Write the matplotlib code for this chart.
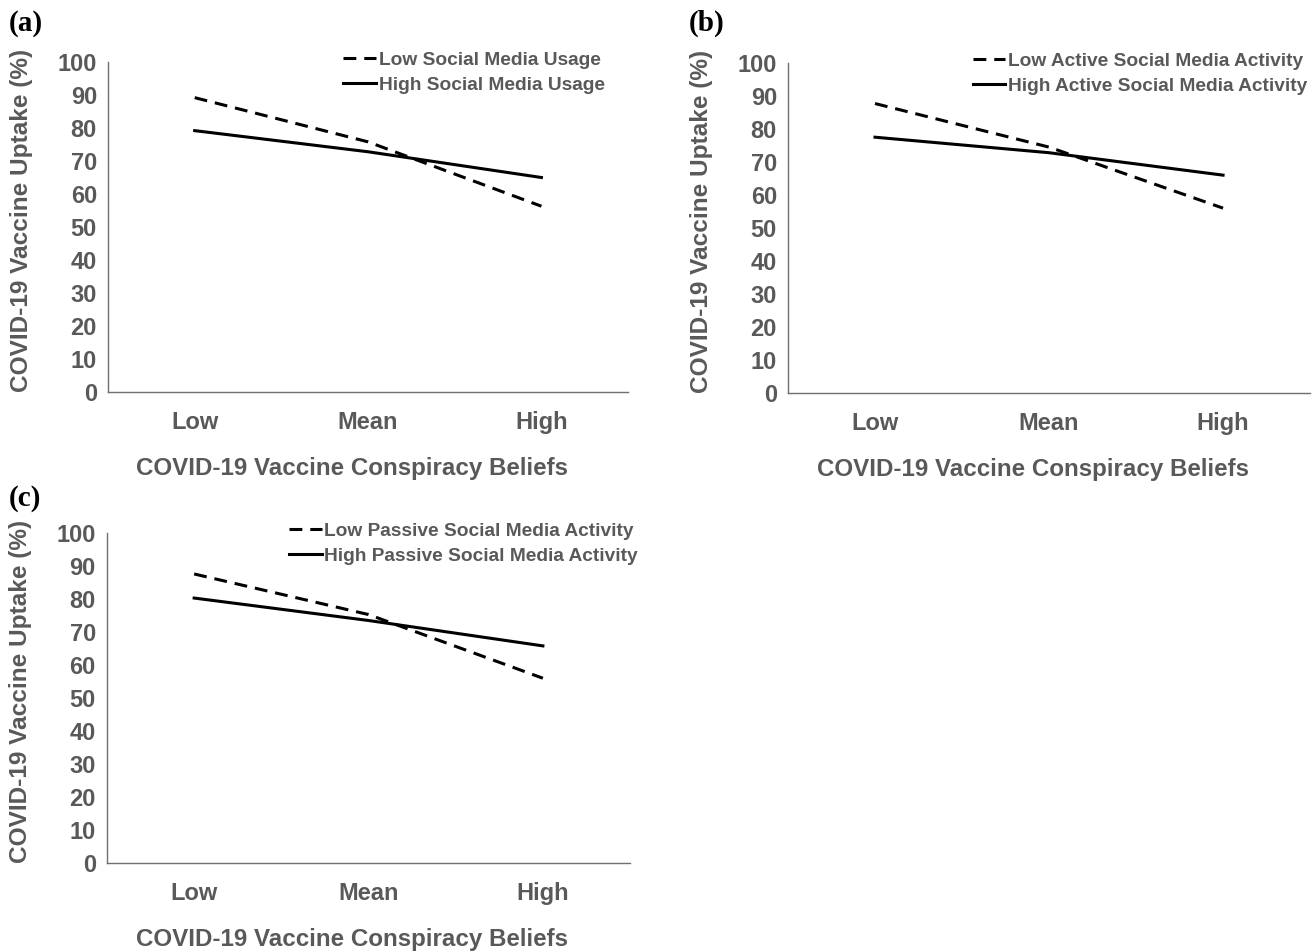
import matplotlib
matplotlib.use("Agg")
import matplotlib.pyplot as plt

plt.rcParams['font.family'] = ['Liberation Sans', 'DejaVu Sans']
plt.rcParams['font.weight'] = 'bold'

levels = ["Low", "Mean", "High"]
yticks = list(range(0, 101, 10))

usage_low = [89.2, 75.8, 56.3]
usage_high = [79.2, 72.8, 65.0]

active_low = [87.7, 74.5, 56.0]
active_high = [77.5, 72.8, 66.0]

passive_low = [87.6, 75.3, 56.0]
passive_high = [80.3, 73.5, 65.8]

panels = [
    ("(a)", usage_low, usage_high, "Low Social Media Usage", "High Social Media Usage"),
    ("(b)", active_low, active_high, "Low Active Social Media Activity", "High Active Social Media Activity"),
    ("(c)", passive_low, passive_high, "Low Passive Social Media Activity", "High Passive Social Media Activity"),
]

# axes rectangles, legend anchors, panel-label positions
rects = [[0.0822, 0.5878, 0.3958, 0.347],
         [0.5997, 0.5868, 0.3973, 0.347],
         [0.0814, 0.0925, 0.3981, 0.347]]
leg_anchor = [(0.452, 1.032), (0.354, 1.032), (0.348, 1.032)]
tag_pos = [(0.007, 0.990), (0.524, 0.990), (0.007, 0.490)]

grey = "#595959"

fig = plt.figure(figsize=(13.14, 9.51), dpi=100)

for i, (tag, low, high, lab_low, lab_high) in enumerate(panels):
    ax = fig.add_axes(rects[i])
    x = range(len(levels))
    ax.plot(x, low, color="black", lw=2.2, dashes=(4.2, 2.6), label=lab_low)
    ax.plot(x, high, color="black", lw=2.2, label=lab_high)
    ax.set_xlim(-0.5, 2.5)
    ax.set_ylim(0, 100)
    ax.set_yticks(yticks)
    ax.set_xticks(list(x))
    ax.set_xticklabels(levels)
    for s in ["top", "right"]:
        ax.spines[s].set_visible(False)
    for s in ["left", "bottom"]:
        ax.spines[s].set_color("#6f6f6f")
        ax.spines[s].set_linewidth(1.0)
    ax.tick_params(axis="y", length=0, pad=8, labelsize=17, labelcolor=grey)
    ax.tick_params(axis="x", length=0, pad=14, labelsize=17, labelcolor=grey)
    ax.set_xlabel("COVID-19 Vaccine Conspiracy Beliefs", fontsize=17.4,
                  color=grey, fontweight="bold")
    ax.xaxis.set_label_coords(0.469, -0.197)
    ax.set_ylabel("COVID-19 Vaccine Uptake (%)", fontsize=17.6,
                  color=grey, fontweight="bold")
    ax.yaxis.set_label_coords(-0.144, 0.52)
    leg = ax.legend(loc="upper left", bbox_to_anchor=leg_anchor[i], frameon=False,
                    fontsize=13.8, handlelength=1.7, handletextpad=0.15,
                    labelspacing=0.4, borderpad=0, borderaxespad=0)
    for t in leg.get_texts():
        t.set_color(grey)
        t.set_fontweight("bold")
    fig.text(tag_pos[i][0], tag_pos[i][1], tag, fontsize=21, fontweight="bold",
             family="Liberation Serif", va="top", ha="left", color="black")

fig.savefig("out.png", dpi=100)
